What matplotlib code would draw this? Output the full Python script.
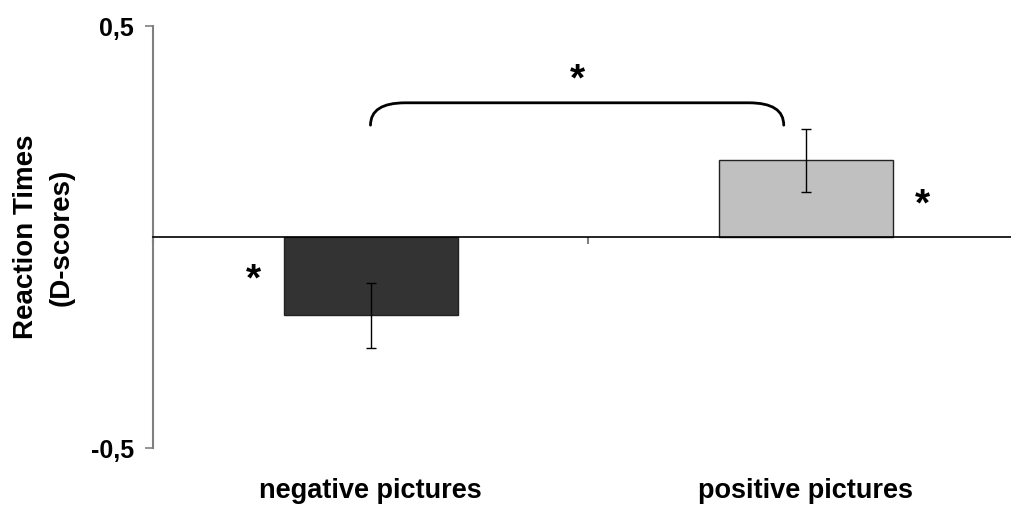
import matplotlib
matplotlib.use("Agg")
import matplotlib.pyplot as plt
from matplotlib.path import Path
from matplotlib.patches import PathPatch

# D-scores per picture type, with error bar half-widths
categories = ["negative pictures", "positive pictures"]
means = [-0.185, 0.182]
errors = [0.077, 0.075]
bar_colors = ["#333333", "#c0c0c0"]
y_ticks = [-0.5, 0.5]
y_tick_labels = ["-0,5", "0,5"]

plt.rcParams["font.family"] = ["Liberation Sans", "DejaVu Sans"]
plt.rcParams["font.weight"] = "bold"


def main():
    fig = plt.figure(figsize=(10.11, 5.05), dpi=100)
    ax = fig.add_axes([153 / 1011, 1 - 448 / 505, 870 / 1011, 422 / 505])

    x = list(range(len(categories)))
    ax.bar(x, means, width=0.40, color=bar_colors, edgecolor="#222222",
           linewidth=1.0, zorder=2)
    ax.errorbar(x, means, yerr=errors, fmt="none", ecolor="black",
                elinewidth=1.0, capsize=3.8, capthick=1.0, zorder=3)

    ax.set_xlim(-0.5, 1.5)
    ax.set_ylim(-0.5, 0.5)

    # x axis sits at zero, y axis in grey
    ax.spines["top"].set_visible(False)
    ax.spines["right"].set_visible(False)
    ax.spines["bottom"].set_position(("data", 0))
    ax.spines["bottom"].set_linewidth(1.2)
    ax.spines["bottom"].set_zorder(4)
    ax.spines["left"].set_color("#808080")
    ax.spines["left"].set_linewidth(1.5)

    ax.set_yticks(y_ticks)
    ax.set_yticklabels(y_tick_labels, fontsize=18, fontweight="bold")
    ax.tick_params(axis="y", direction="out", length=5.5, width=1.2,
                   color="#808080", pad=8)
    ax.set_xticks([-0.5, 0.5, 1.5])
    ax.set_xticklabels([])
    ax.tick_params(axis="x", direction="out", length=5, width=1.5,
                   color="#808080")

    # category names along the bottom
    trans = ax.get_xaxis_transform()
    for xi, name in zip(x, categories):
        ax.text(xi, -0.103, name, transform=trans, ha="center", va="center",
                fontsize=19.5, fontweight="bold")

    fig.text(44 / 1011, 1 - 237 / 505, "Reaction Times\n(D-scores)",
             rotation=90, ha="center", va="center", ma="center",
             fontsize=20, fontweight="bold", linespacing=1.45)

    # significance brace between the two conditions
    bx0, bx1 = x[0], x[1] - 0.05
    btop, bend, r = 0.318, 0.265, 0.08
    verts = [(bx0, bend), (bx0, btop), (bx0 + r, btop),
             (bx1 - r, btop), (bx1, btop), (bx1, bend)]
    codes = [Path.MOVETO, Path.CURVE3, Path.CURVE3,
             Path.LINETO, Path.CURVE3, Path.CURVE3]
    ax.add_patch(PathPatch(Path(verts, codes), fill=False, lw=2.0,
                           edgecolor="black", capstyle="round"))

    star_kw = dict(ha="center", va="center", fontsize=28, fontweight="bold")
    ax.text((bx0 + bx1) / 2, 0.372, "*", **star_kw)
    ax.text(x[0] - 0.27, -0.103, "*", **star_kw)
    ax.text(x[1] + 0.27, 0.074, "*", **star_kw)

    fig.savefig("out.png", dpi=100)


if __name__ == "__main__":
    main()
